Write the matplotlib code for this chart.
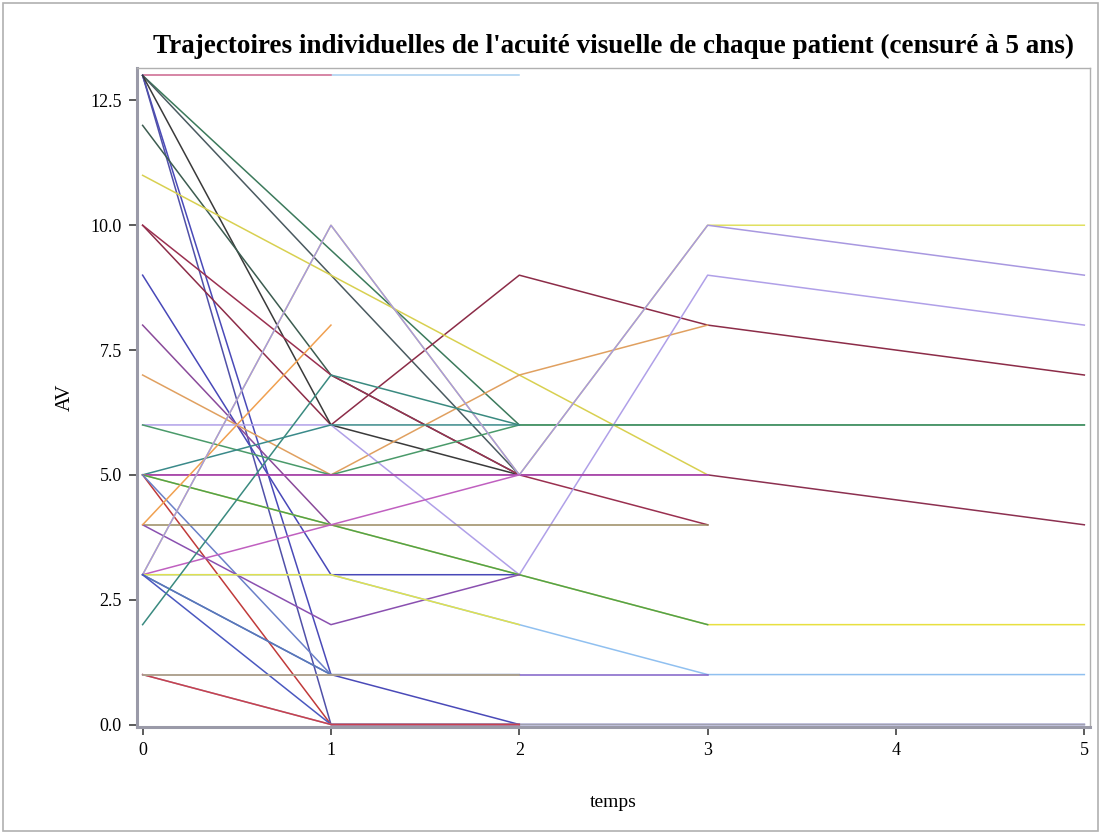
import numpy as np
import matplotlib.pyplot as plt
from matplotlib.patches import Rectangle

# trajectoires : temps de suivi, AV, couleur
temps_pat = [
    [0, 1, 2], [0, 1],
    [0, 2, 3, 4, 5], [0, 1, 2], [0, 1, 2, 3, 4, 5], [0, 1, 2],
    [0, 1, 2, 3, 4, 5], [0, 1, 2], [0, 1, 2], [0, 1, 2, 3],
    [0, 1, 2, 3], [0, 1, 2], [0, 1], [0, 1, 2, 3],
    [0, 1, 2, 3, 4, 5], [0, 1, 2, 3, 4, 5], [0, 1, 2],
    [0, 1, 2, 3, 4, 5], [0, 1, 2, 3],
    [0, 1, 2, 3, 4, 5], [0, 1, 2, 3],
    [0, 1, 2], [0, 1], [0, 1, 2, 3], [0, 1, 2], [0, 1],
    [0, 1, 2, 3, 4, 5], [0, 1, 2, 3, 4, 5], [0, 1, 2],
    [0, 1, 2, 3, 4, 5], [0, 1, 2], [0, 1], [0, 1, 2],
    [0, 1, 2], [0, 1, 2], [0, 1, 2, 3, 4, 5], [0, 1, 2],
    [0, 1, 2, 3], [0, 1, 2],
]
av_pat = [
    [13, 13, 13], [13, 13],
    [13, 6, 6, 6, 6], [13, 9, 5], [13, 1, 0, 0, 0, 0], [13, 0, 0],
    [10, 6, 9, 8, 7.5, 7], [13, 6, 5], [12, 7, 5], [11, 9, 7, 5],
    [10, 7, 5, 4], [9, 3, 3], [8, 4], [7, 5, 7, 8],
    [6, 6, 3, 9, 8.5, 8], [6, 5, 6, 6, 6, 6], [5, 6, 6],
    [5, 5, 5, 5, 4.5, 4], [5, 5, 5, 5],
    [5, 4, 3, 2, 2, 2], [5, 4, 3, 2],
    [5, 0, 0], [5, 1], [4, 4, 4, 4], [4, 2, 3], [4, 8],
    [3, 10, 5, 10, 10, 10], [3, 10, 5, 10, 9.5, 9], [3, 4, 5],
    [3, 3, 2, 1, 1, 1], [3, 3, 2], [3, 1], [3, 1, 1],
    [3, 0, 0], [2, 7, 6], [1, 0, 0, 0, 0, 0], [1, 0, 0],
    [1, 1, 1, 1], [1, 1, 1],
]
couleurs = [
    '#a8d0f0', '#e07090',
    '#3c7a5c', '#4a5a60', '#4a4ab8', '#5050a8', '#8c2c48', '#3a3a3a',
    '#3c5c50', '#d8d050', '#9a3050', '#4848b8', '#8a4a9a', '#e0a060',
    '#b0a0e8', '#4a9a6a', '#3a8a8a', '#8c3050', '#b050c0',
    '#e8e040', '#50a050', '#c03a3a', '#6a80c8', '#9a8a60', '#8a50b0',
    '#f0a050', '#e0e060', '#a898e0', '#c060c0', '#90c0f0', '#e0e050',
    '#5070c8', '#5a78b8', '#4a58c0', '#3a8a80', '#a0a0b0', '#c84050',
    '#8060c8', '#b8b080',
]

fig = plt.figure(figsize=(11.01, 8.34), dpi=100)
fig.patches.append(Rectangle((0.003, 0.004), 0.994, 0.992, transform=fig.transFigure,
                             fill=False, edgecolor='#b0b0b0', linewidth=1.2))
ax = fig.add_axes([0.1244, 0.1283, 0.8656, 0.7902])

for t, v, c in zip(temps_pat, av_pat, couleurs):
    ax.plot(t, v, color=c, linewidth=1.1)

ax.set_xlim(-0.03, 5.03)
ax.set_ylim(-0.05, 13.15)
ax.set_xticks([0, 1, 2, 3, 4, 5])
ax.set_yticks([0, 2.5, 5, 7.5, 10, 12.5])
ax.set_yticklabels(['0.0', '2.5', '5.0', '7.5', '10.0', '12.5'])

police = 'Liberation Serif'
for lab in ax.get_xticklabels() + ax.get_yticklabels():
    lab.set_fontfamily(police)
    lab.set_fontsize(13)
ax.tick_params(direction='out', length=6, width=1.2, color='#404040', pad=5)

for side in ['left', 'bottom']:
    ax.spines[side].set_color('#9a9aa8')
    ax.spines[side].set_linewidth(2.2)
for side in ['top', 'right']:
    ax.spines[side].set_color('#b0b0b0')
    ax.spines[side].set_linewidth(1.0)

ax.set_xlabel('temps', fontfamily=police, fontsize=14, labelpad=25)
ax.set_ylabel('AV', fontfamily=police, fontsize=15, labelpad=11)
ax.set_title("Trajectoires individuelles de l'acuité visuelle de chaque patient (censuré à 5 ans)",
             fontfamily=police, fontweight='bold', fontsize=19.5, pad=11)

fig.savefig('out.png', dpi=100)
